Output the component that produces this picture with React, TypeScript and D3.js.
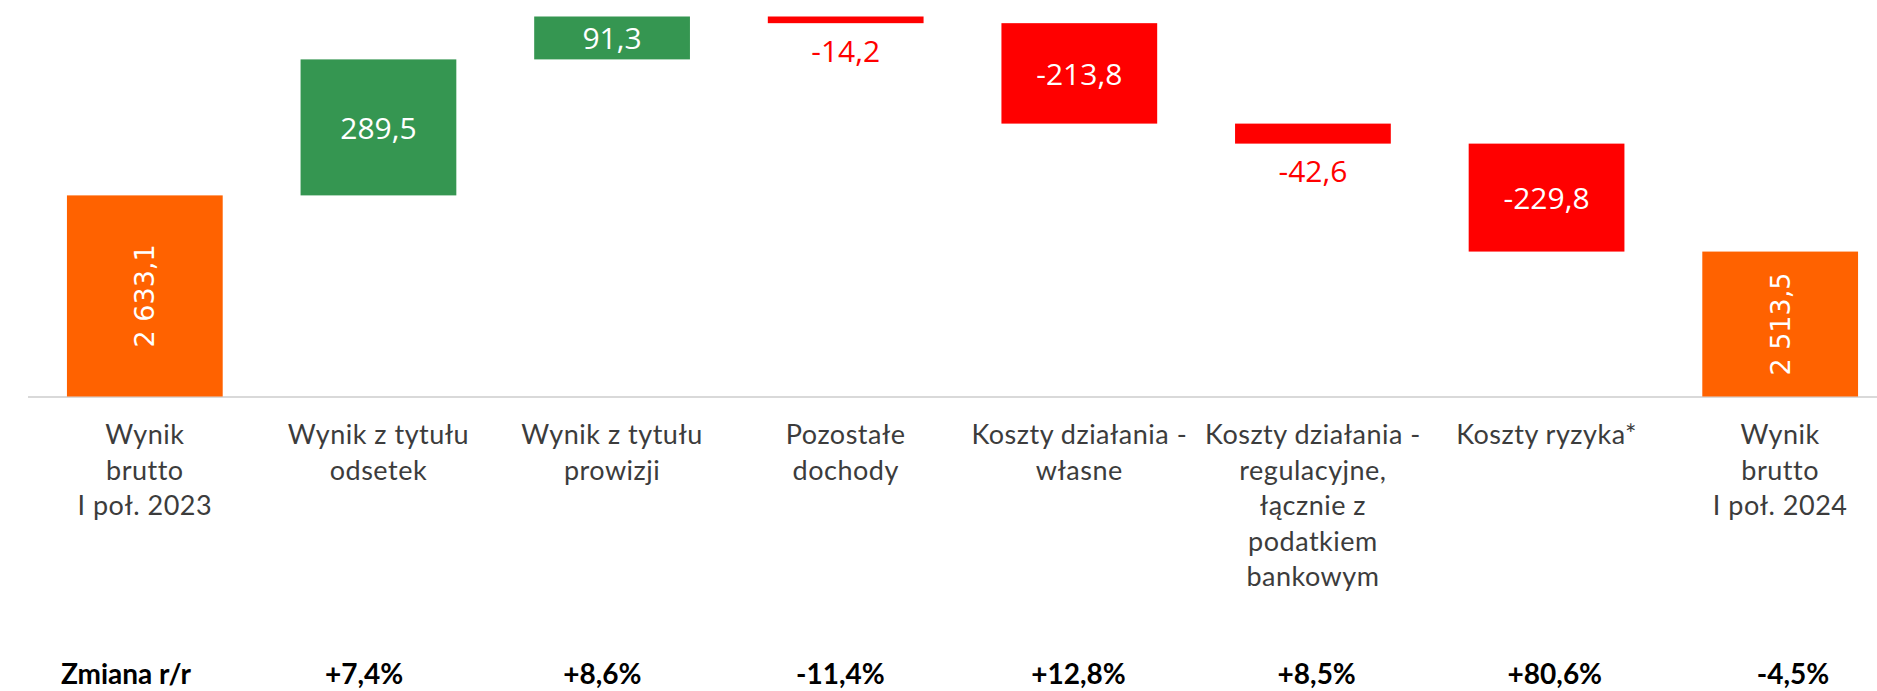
import React from "react";
import * as d3 from "d3";

const categories: string[][] = [
  ["Wynik", "brutto", "I poł. 2023"],
  ["Wynik z tytułu", "odsetek"],
  ["Wynik z tytułu", "prowizji"],
  ["Pozostałe", "dochody"],
  ["Koszty działania -", "własne"],
  ["Koszty działania -", "regulacyjne,", "łącznie z", "podatkiem", "bankowym"],
  ["Koszty ryzyka*"],
  ["Wynik", "brutto", "I poł. 2024"],
];
const values: number[] = [2633.1, 289.5, 91.3, -14.2, -213.8, -42.6, -229.8, 2513.5];
const isTotal: boolean[] = [true, false, false, false, false, false, false, true];
const changes: string[] = ["Zmiana r/r", "+7,4%", "+8,6%", "-11,4%", "+12,8%", "+8,5%", "+80,6%", "-4,5%"];

const W = 1877;
const H = 691;
const COLORS = { total: "#FF6200", up: "#359651", down: "#FF0000" };

const locale = d3.formatLocale({
  decimal: ",",
  thousands: " ",
  grouping: [3],
  currency: ["", " zł"],
  minus: "-",
});
const fmt = locale.format(",.1f");

export default function App() {
  const keys = categories.map((_, i) => String(i));
  const x = d3.scaleBand<string>().domain(keys).range([28, 1897]).paddingInner(0.3333).paddingOuter(0.1667);
  const xTable = d3.scalePoint<string>().domain(keys).range([126, 1793]);
  const y = d3.scaleLinear().domain([2205, 3013.9]).range([396.5, 16.5]);

  let running = 0;
  const bars = values.map((v, i) => {
    let start: number, end: number;
    if (isTotal[i]) {
      start = y.domain()[0];
      end = v;
      running = v;
    } else {
      start = running;
      end = running + v;
      running = end;
    }
    const top = y(Math.max(start, end));
    const bottom = y(Math.min(start, end));
    const color = isTotal[i] ? COLORS.total : v >= 0 ? COLORS.up : COLORS.down;
    return { i, v, top, bottom, color };
  });

  return (
    <svg width={W} height={H} style={{ position: "absolute", left: 0, top: 0, background: "#fff" }}>
      <line x1={28} x2={W} y1={397} y2={397} stroke="#d9d9d9" strokeWidth={2} />
      {bars.map((b) => {
        const x0 = x(String(b.i))!;
        const bw = x.bandwidth();
        const cx = x0 + bw / 2;
        const h = b.bottom - b.top;
        let label: React.ReactNode;
        if (isTotal[b.i]) {
          const cy = (b.top + b.bottom) / 2;
          label = (
            <text
              transform={`translate(${cx},${cy}) rotate(-90)`}
              textAnchor="middle"
              dominantBaseline="central"
              fill="#fff"
              fontFamily="DejaVu Sans"
              fontSize={27}
            >
              {fmt(b.v)}
            </text>
          );
        } else if (h >= 35) {
          label = (
            <text
              x={cx}
              y={(b.top + b.bottom) / 2}
              textAnchor="middle"
              dominantBaseline="central"
              fill="#fff"
              fontFamily="'Open Sans', sans-serif"
              fontSize={30}
            >
              {fmt(b.v)}
            </text>
          );
        } else {
          const ly = b.v < 0 ? b.bottom + 27 : b.top - 27;
          label = (
            <text
              x={cx}
              y={ly}
              textAnchor="middle"
              dominantBaseline="central"
              fill={b.color}
              fontFamily="'Open Sans', sans-serif"
              fontSize={30}
            >
              {fmt(b.v)}
            </text>
          );
        }
        return (
          <g key={b.i}>
            <rect x={x0} y={b.top} width={bw} height={h} fill={b.color} />
            {label}
          </g>
        );
      })}
      {categories.map((lines, i) => {
        const cx = x(String(i))! + x.bandwidth() / 2;
        return (
          <text
            key={"c" + i}
            textAnchor="middle"
            fill="#3c3c3c"
            fontFamily="Lato, sans-serif"
            fontSize={27}
            letterSpacing={0.5}
          >
            {lines.map((l, j) => (
              <tspan key={j} x={cx} y={444 + j * 35.5}>
                {l}
              </tspan>
            ))}
          </text>
        );
      })}
      {changes.map((c, i) => (
        <text
          key={"p" + i}
          x={xTable(String(i))}
          y={684}
          textAnchor="middle"
          fill="#000"
          fontFamily="Lato, sans-serif"
          fontWeight="bold"
          fontSize={28}
        >
          {c}
        </text>
      ))}
    </svg>
  );
}
